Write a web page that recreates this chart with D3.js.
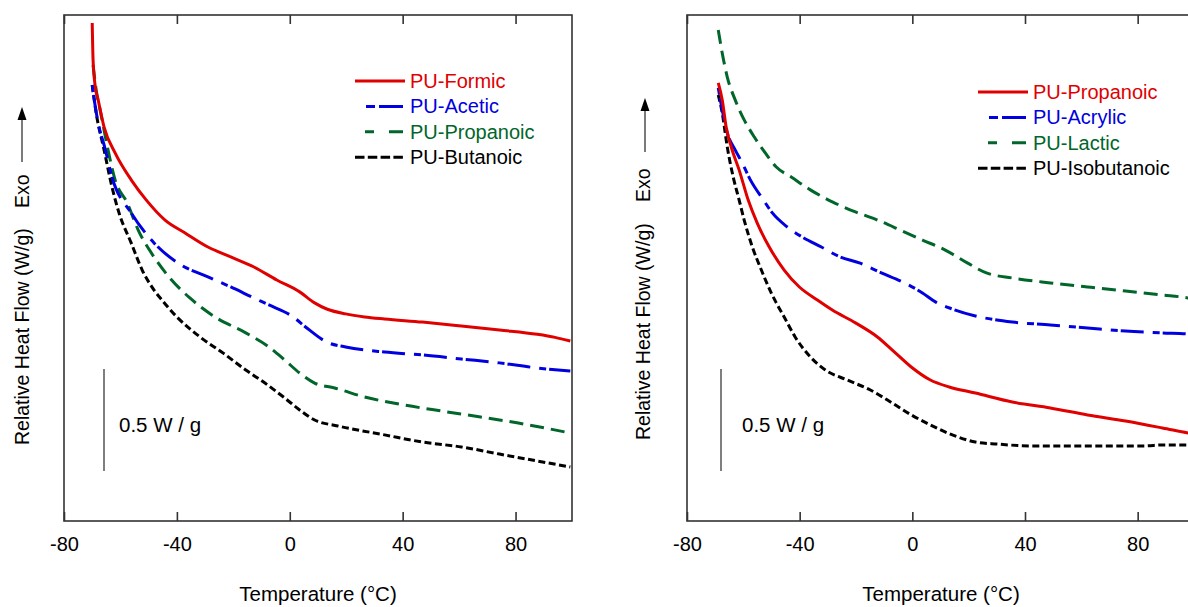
<!DOCTYPE html>
<html>
<head>
<meta charset="utf-8">
<script src="https://cdn.jsdelivr.net/npm/d3@7"></script>
<style>
  html, body { margin: 0; padding: 0; background: #fff; }
  svg { display: block; }
  text { font-family: "Liberation Sans", Arial, Helvetica, sans-serif; }
</style>
</head>
<body>
<svg id="chart" width="1188" height="607"></svg>
<script>
// ---------------- data ----------------
const tempTicks = [-80, -40, 0, 40, 80];
const tempDomain = [-80, 100];
const heatDomain = [0, 2.48];          // relative heat flow, W/g (arbitrary offset)
const scaleBarValues = [0.245, 0.745];  // 0.5 W/g reference bar

const leftLabels  = ["PU-Formic", "PU-Acetic", "PU-Propanoic", "PU-Butanoic"];
const rightLabels = ["PU-Propanoic", "PU-Acrylic", "PU-Lactic", "PU-Isobutanoic"];

// [temperature °C, relative heat flow W/g]
const puFormic = [[-70,2.441],[-69.7,2.26],[-69,2.137],[-67.9,2.064],[-65.8,1.931],[-61.9,1.804],[-56.2,1.672],[-50.9,1.574],[-44.2,1.475],[-37.1,1.412],[-29,1.343],[-20.9,1.294],[-12.7,1.245],[-4.6,1.181],[3.5,1.123],[8.8,1.069],[13.1,1.039],[19.8,1.015],[26.5,1.0],[33.6,0.99],[47,0.975],[60.8,0.956],[74.3,0.936],[87.7,0.915],[94,0.9],[99.4,0.882]];
const puAcetic = [[-70,2.137],[-69,2.039],[-67.9,1.951],[-65.5,1.828],[-63,1.686],[-56.2,1.51],[-48.1,1.363],[-38.5,1.255],[-29,1.196],[-20.9,1.147],[-12.7,1.093],[-7.4,1.059],[0.7,1.005],[6.4,0.942],[13.1,0.877],[19.8,0.853],[33.6,0.828],[47,0.814],[60.8,0.794],[74.3,0.775],[87.7,0.75],[99.4,0.735]];
const puPropanoicL = [[-69.7,2.235],[-68.6,2.113],[-67.2,2.015],[-64.4,1.819],[-61.9,1.672],[-57.6,1.559],[-53.7,1.426],[-48.1,1.294],[-42.8,1.196],[-35.4,1.093],[-26.5,1.0],[-15.6,0.922],[-7.4,0.853],[-1.8,0.789],[3.5,0.725],[8.8,0.676],[15.9,0.652],[26.5,0.608],[40.3,0.569],[53.8,0.539],[67.6,0.51],[81,0.48],[99.4,0.431]];
const puButanoic = [[-70,2.137],[-68.6,2.0],[-65.8,1.819],[-63,1.637],[-60.5,1.51],[-56.2,1.363],[-52.3,1.23],[-48.1,1.132],[-45.3,1.083],[-40,1.0],[-31.8,0.902],[-23.7,0.824],[-15.6,0.74],[-8.8,0.676],[-1.8,0.603],[3.5,0.544],[8.8,0.495],[17,0.466],[33.6,0.422],[47,0.387],[60.8,0.363],[74.3,0.328],[87.7,0.294],[99.4,0.265]];

const puPropanoicR = [[-68.9,2.147],[-67.5,2.064],[-66.1,1.931],[-64.3,1.833],[-61.5,1.721],[-58.3,1.574],[-55.1,1.461],[-50.8,1.343],[-45.5,1.23],[-40.1,1.147],[-33.7,1.083],[-28.4,1.034],[-20.2,0.971],[-12.4,0.902],[-7.1,0.838],[-0.4,0.755],[6.4,0.691],[13.1,0.657],[22.4,0.627],[35.5,0.583],[49,0.554],[62.2,0.52],[75.7,0.49],[88.8,0.456],[98,0.431],[100,0.426]];
const puAcrylic = [[-68.9,2.123],[-67.5,2.015],[-65.7,1.902],[-62.9,1.819],[-60.4,1.755],[-57.5,1.672],[-52.9,1.574],[-49.7,1.51],[-44.4,1.441],[-39.1,1.392],[-32.3,1.343],[-25.6,1.294],[-18.8,1.265],[-11,1.216],[-2.8,1.167],[3.6,1.118],[8.2,1.074],[14.2,1.039],[22.4,1.005],[35.5,0.975],[49,0.961],[62.2,0.946],[75.7,0.931],[88.8,0.922],[98,0.917],[100,0.912]];
const puLactic = [[-68.9,2.407],[-67.5,2.294],[-65.7,2.176],[-62.9,2.064],[-59.7,1.966],[-56.1,1.882],[-52.2,1.804],[-48.3,1.735],[-43,1.686],[-36.2,1.623],[-28.4,1.564],[-20.2,1.515],[-12.4,1.475],[-4.3,1.426],[3.6,1.377],[11.7,1.328],[19.5,1.265],[26.3,1.216],[35.5,1.191],[49,1.167],[62.2,1.147],[75.7,1.127],[88.8,1.108],[98,1.093],[100,1.088]];
const puIsobutanoic = [[-68.9,2.088],[-67.5,2.0],[-65.7,1.833],[-63.6,1.686],[-61.5,1.574],[-59.7,1.475],[-56.8,1.343],[-53.6,1.23],[-50.1,1.118],[-48.3,1.069],[-45.5,1.0],[-41.6,0.902],[-36.2,0.804],[-30.9,0.74],[-23.1,0.691],[-14.9,0.642],[-7.1,0.578],[-0.4,0.52],[6.4,0.471],[14.2,0.422],[22.4,0.387],[30.2,0.377],[42.3,0.368],[55.8,0.368],[68.9,0.368],[82.4,0.368],[88.8,0.373],[98,0.373],[100,0.373]];

// ---------------- styles ----------------
const RED = "#e00000", BLUE = "#0000e0", GREEN = "#00662a", BLACK = "#000000";
const styles = [
  { color: RED,   dash: null,        legendOff: 0,  legendDash: null },
  { color: BLUE,  dash: "7,3,23,9",  legendOff: 11, legendDash: "9,4,24" },
  { color: GREEN, dash: "14,7",      legendOff: 10, legendDash: "9,15,14" },
  { color: BLACK, dash: "7,3.5",     legendOff: 0,  legendDash: "9.5,3.3" }
];

const panels = [
  { x0: 64,  x1: 572,  series: [puFormic, puAcetic, puPropanoicL, puButanoic], labels: leftLabels,
    legX: 355, legY: 81, scaleX: 104, scaleTextX: 119, labX: 29, labStart: 445, exoStart: 208,
    arrX: 22, arrTip: 107, arrBase: 162, titleX: 318 },
  { x0: 687, x1: 1194, series: [puPropanoicR, puAcrylic, puLactic, puIsobutanoic], labels: rightLabels,
    legX: 978, legY: 92, scaleX: 721, scaleTextX: 742, labX: 650, labStart: 440, exoStart: 202,
    arrX: 645, arrTip: 98, arrBase: 152, titleX: 941 }
];

const plotTop = 15, plotBottom = 521;
const svg = d3.select("#chart");
const y = d3.scaleLinear().domain(heatDomain).range([plotBottom, plotTop]);

panels.forEach((p, pi) => {
  const x = d3.scaleLinear().domain(tempDomain).range([p.x0, p.x1]);
  const g = svg.append("g");

  const clipId = "clip" + pi;
  svg.append("clipPath").attr("id", clipId).append("rect")
    .attr("x", p.x0).attr("y", plotTop).attr("width", p.x1 - p.x0).attr("height", plotBottom - plotTop);

  // frame
  g.append("rect").attr("x", p.x0).attr("y", plotTop).attr("width", p.x1 - p.x0).attr("height", plotBottom - plotTop)
    .attr("fill", "none").attr("stroke", "#333").attr("stroke-width", 1.6);

  // bottom axis
  const xb = g.append("g").attr("transform", `translate(0,${plotBottom})`)
    .call(d3.axisBottom(x).tickValues(tempTicks).tickSizeInner(-9).tickSizeOuter(0).tickPadding(16).tickFormat(d => String(d)));
  xb.select(".domain").remove();
  xb.selectAll(".tick line").attr("stroke", "#333").attr("stroke-width", 1.6);
  xb.selectAll(".tick text").attr("font-size", 20).attr("fill", "#000")
    .attr("font-family", '"Liberation Sans", Arial, sans-serif');

  // top axis
  const xt = g.append("g").attr("transform", `translate(0,${plotTop})`)
    .call(d3.axisTop(x).tickValues(tempTicks).tickSizeInner(-9).tickSizeOuter(0).tickFormat(""));
  xt.select(".domain").remove();
  xt.selectAll(".tick line").attr("stroke", "#333").attr("stroke-width", 1.6);

  // x label
  g.append("text").attr("x", p.titleX).attr("y", 601).attr("text-anchor", "middle")
    .attr("font-size", 20.5).text("Temperature (°C)");

  // y label
  g.append("text").attr("transform", `translate(${p.labX},${p.labStart}) rotate(-90)`)
    .attr("font-size", 19.5).text("Relative Heat Flow (W/g)");
  g.append("text").attr("transform", `translate(${p.labX},${p.exoStart}) rotate(-90)`)
    .attr("font-size", 19.5).text("Exo");
  g.append("line").attr("x1", p.arrX).attr("x2", p.arrX).attr("y1", p.arrBase).attr("y2", p.arrTip + 10)
    .attr("stroke", "#333").attr("stroke-width", 1.3);
  g.append("path").attr("d", `M${p.arrX},${p.arrTip} L${p.arrX - 4.5},${p.arrTip + 13} L${p.arrX + 4.5},${p.arrTip + 13} Z`)
    .attr("fill", "#000");

  // scale bar
  g.append("line").attr("x1", p.scaleX).attr("x2", p.scaleX)
    .attr("y1", y(scaleBarValues[0])).attr("y2", y(scaleBarValues[1]))
    .attr("stroke", "#555").attr("stroke-width", 1.5);
  g.append("text").attr("x", p.scaleTextX).attr("y", (y(scaleBarValues[0]) + y(scaleBarValues[1])) / 2 + 12)
    .attr("font-size", 20.5).text("0.5 W / g");

  // curves
  const line = d3.line().x(d => x(d[0])).y(d => y(d[1])).curve(d3.curveMonotoneX);
  const cg = g.append("g").attr("clip-path", `url(#${clipId})`);
  [3, 2, 1, 0].forEach(i => {
    cg.append("path").datum(p.series[i]).attr("d", line)
      .attr("fill", "none").attr("stroke", styles[i].color).attr("stroke-width", 3)
      .attr("stroke-dasharray", styles[i].dash).attr("stroke-linejoin", "round");
  });

  // legend
  p.labels.forEach((lab, i) => {
    const ly = p.legY + i * 25.4;
    const s = styles[i];
    g.append("line").attr("x1", p.legX + s.legendOff).attr("x2", p.legX + 50).attr("y1", ly).attr("y2", ly)
      .attr("stroke", s.color).attr("stroke-width", 3).attr("stroke-dasharray", s.legendDash);
    g.append("text").attr("x", p.legX + 55).attr("y", ly + 7).attr("font-size", 20)
      .attr("fill", s.color).text(lab);
  });
});
</script>
</body>
</html>
